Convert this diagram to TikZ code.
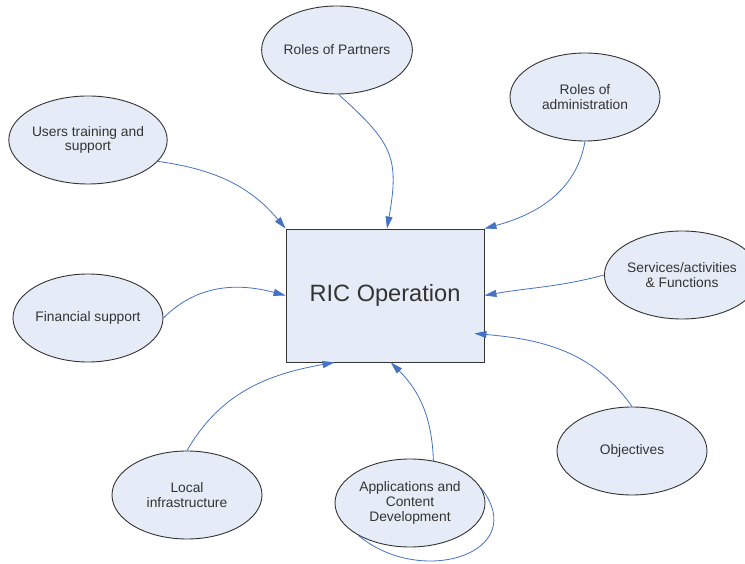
\documentclass[tikz,border=0pt]{standalone}
\usepackage{fontspec}
\setmainfont{Liberation Sans}
\usetikzlibrary{shapes.geometric, arrows.meta, calc}
\definecolor{topicfill}{RGB}{230,236,247}
\definecolor{linkblue}{RGB}{68,114,196}
\definecolor{inkgray}{RGB}{51,51,51}

\begin{document}
\begin{tikzpicture}[x=1pt, y=-1pt,
  topic/.style={draw=inkgray, line width=0.9pt, ellipse, fill=topicfill,
    minimum width=150pt, minimum height=88pt, inner sep=0pt, align=center,
    text=inkgray, font=\fontsize{13.8}{14.8}\selectfont},
  link/.style={draw=linkblue, line width=0.8pt,
    -{Triangle[length=12pt, width=7pt, fill=linkblue]}}]
  \useasboundingbox (0,0) rectangle (745,564);

  \node[draw=inkgray, line width=0.9pt, fill=topicfill, minimum width=198pt,
    minimum height=133pt, text=inkgray,
    font=\fontsize{23.6}{28}\selectfont] (ric) at (385,295.5) {RIC Operation};

  \node[topic] (partners) at (337,50) {Roles of Partners};
  \node[topic] (admin) at (585,97) {Roles of\\administration};
  \node[topic] (users) at (88,140) {Users training and\\support};
  \node[topic] (services) at (682,275) {Services/activities\\\& Functions};
  \node[topic] (finance) at (88,318) {Financial support};
  \node[topic] (objectives) at (632,451) {Objectives};
  \node[topic] (local) at (187,495) {Local\\infrastructure};
  \node[topic] (apps) at (410,503) {Applications and\\Content\\Development};

  \draw[link] (users.-17) to[out=-8, in=130] (ric.north west);
  \draw[link] (partners.-88) to[out=-42, in=80, looseness=1.3] ($(ric.north)+(2,0)$);
  \draw[link] (admin.south) to[out=-100, in=15] (ric.north east);
  \draw[link] (services.west) to[out=195, in=10] (ric.east);
  \draw[link] (objectives.north) to[out=125, in=-5] ($(ric.east)+(-10,38)$);
  \draw[link] (apps.61) to[out=92, in=-45] (ric.-85);
  \draw[link] (local.north) to[out=60, in=190] (ric.-127);
  \draw[link] (finance.east) to[out=45, in=165] (ric.west);
  \draw[draw=linkblue, line width=0.8pt] (apps.12) to[out=-52, in=-40, looseness=1.6] (apps.-148);
\end{tikzpicture}
\end{document}
